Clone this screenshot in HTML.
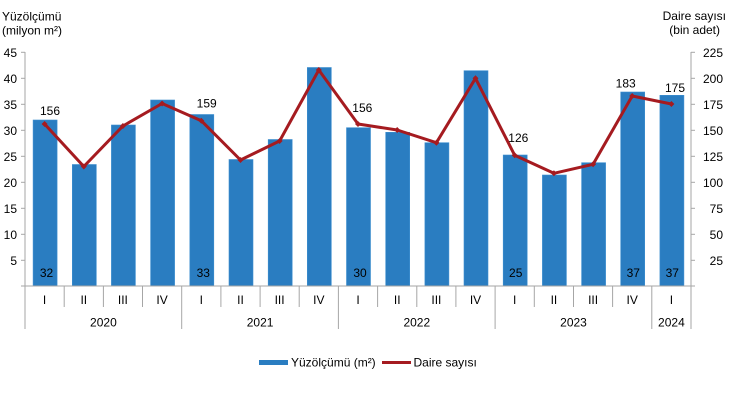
<!DOCTYPE html>
<html>
<head>
<meta charset="utf-8">
<style>
html,body{margin:0;padding:0;background:#fff;}
svg{display:block;}
text{font-family:"Liberation Sans",Arial,sans-serif;font-size:12px;fill:#000;}
</style>
</head>
<body>
<svg width="729" height="405" viewBox="0 0 729 405" xmlns="http://www.w3.org/2000/svg">
<!-- titles -->
<text x="2" y="20.5">Yüzölçümü</text>
<text x="2" y="34.5">(milyon m²)</text>
<text x="726" y="20" text-anchor="end">Daire sayısı</text>
<text x="720" y="34" text-anchor="end">(bin adet)</text>

<!-- bars -->
<g fill="#2A7DC1" stroke="#3E8FD0" stroke-width="0.6">
<rect x="33.1" y="120" width="24" height="166"/>
<rect x="72.3" y="164.5" width="24" height="121.5"/>
<rect x="111.4" y="125" width="24" height="161"/>
<rect x="150.6" y="100" width="24" height="186"/>
<rect x="189.8" y="114.5" width="24" height="171.5"/>
<rect x="229" y="159.5" width="24" height="126.5"/>
<rect x="268.2" y="139.5" width="24" height="146.5"/>
<rect x="307.3" y="67.5" width="24" height="218.5"/>
<rect x="346.5" y="127.7" width="24" height="158.3"/>
<rect x="385.7" y="132.3" width="24" height="153.7"/>
<rect x="424.9" y="142.7" width="24" height="143.3"/>
<rect x="464" y="70.7" width="24" height="215.3"/>
<rect x="503.2" y="155" width="24" height="131"/>
<rect x="542.4" y="175" width="24" height="111"/>
<rect x="581.6" y="162.7" width="24" height="123.3"/>
<rect x="620.7" y="92" width="24" height="194"/>
<rect x="659.9" y="95.3" width="24" height="190.7"/>
</g>

<!-- axes -->
<g stroke="#A6A6A6" stroke-width="1" fill="none">
<line x1="25" y1="52" x2="25" y2="329"/>
<line x1="691" y1="52" x2="691" y2="329"/>
<line x1="21" y1="286" x2="695" y2="286"/>
<line x1="21" y1="52.3" x2="25" y2="52.3"/>
<line x1="21" y1="78.3" x2="25" y2="78.3"/>
<line x1="21" y1="104.3" x2="25" y2="104.3"/>
<line x1="21" y1="130.3" x2="25" y2="130.3"/>
<line x1="21" y1="156.3" x2="25" y2="156.3"/>
<line x1="21" y1="182.3" x2="25" y2="182.3"/>
<line x1="21" y1="208.3" x2="25" y2="208.3"/>
<line x1="21" y1="234.3" x2="25" y2="234.3"/>
<line x1="21" y1="260.3" x2="25" y2="260.3"/>
<line x1="691" y1="52.3" x2="695" y2="52.3"/>
<line x1="691" y1="78.3" x2="695" y2="78.3"/>
<line x1="691" y1="104.3" x2="695" y2="104.3"/>
<line x1="691" y1="130.3" x2="695" y2="130.3"/>
<line x1="691" y1="156.3" x2="695" y2="156.3"/>
<line x1="691" y1="182.3" x2="695" y2="182.3"/>
<line x1="691" y1="208.3" x2="695" y2="208.3"/>
<line x1="691" y1="234.3" x2="695" y2="234.3"/>
<line x1="691" y1="260.3" x2="695" y2="260.3"/>
<line x1="64.2" y1="286" x2="64.2" y2="307"/>
<line x1="103.4" y1="286" x2="103.4" y2="307"/>
<line x1="142.5" y1="286" x2="142.5" y2="307"/>
<line x1="181.7" y1="286" x2="181.7" y2="329"/>
<line x1="220.9" y1="286" x2="220.9" y2="307"/>
<line x1="260.1" y1="286" x2="260.1" y2="307"/>
<line x1="299.2" y1="286" x2="299.2" y2="307"/>
<line x1="338.4" y1="286" x2="338.4" y2="329"/>
<line x1="377.6" y1="286" x2="377.6" y2="307"/>
<line x1="416.8" y1="286" x2="416.8" y2="307"/>
<line x1="455.9" y1="286" x2="455.9" y2="307"/>
<line x1="495.1" y1="286" x2="495.1" y2="329"/>
<line x1="534.3" y1="286" x2="534.3" y2="307"/>
<line x1="573.5" y1="286" x2="573.5" y2="307"/>
<line x1="612.6" y1="286" x2="612.6" y2="307"/>
<line x1="651.8" y1="286" x2="651.8" y2="329"/>
</g>

<g text-anchor="end">
<text x="17" y="57">45</text>
<text x="17" y="83">40</text>
<text x="17" y="109">35</text>
<text x="17" y="135">30</text>
<text x="17" y="161">25</text>
<text x="17" y="187">20</text>
<text x="17" y="213">15</text>
<text x="17" y="239">10</text>
<text x="17" y="265">5</text>
</g>
<g text-anchor="end">
<text x="723" y="57">225</text>
<text x="723" y="83">200</text>
<text x="723" y="109">175</text>
<text x="723" y="135">150</text>
<text x="723" y="161">125</text>
<text x="723" y="187">100</text>
<text x="723" y="213">75</text>
<text x="723" y="239">50</text>
<text x="723" y="265">25</text>
</g>

<g text-anchor="middle">
<text x="44.6" y="304">I</text>
<text x="83.8" y="304">II</text>
<text x="122.9" y="304">III</text>
<text x="162.1" y="304">IV</text>
<text x="201.3" y="304">I</text>
<text x="240.5" y="304">II</text>
<text x="279.6" y="304">III</text>
<text x="318.8" y="304">IV</text>
<text x="358" y="304">I</text>
<text x="397.2" y="304">II</text>
<text x="436.4" y="304">III</text>
<text x="475.5" y="304">IV</text>
<text x="514.7" y="304">I</text>
<text x="553.9" y="304">II</text>
<text x="593.1" y="304">III</text>
<text x="632.2" y="304">IV</text>
<text x="671.4" y="304">I</text>
<text x="103.4" y="326.5">2020</text>
<text x="260.1" y="326.5">2021</text>
<text x="416.8" y="326.5">2022</text>
<text x="573.5" y="326.5">2023</text>
<text x="671.4" y="326.5">2024</text>
</g>

<g text-anchor="middle" fill="#111">
<text x="46.5" y="277">32</text>
<text x="203.3" y="277">33</text>
<text x="360" y="277">30</text>
<text x="515.7" y="277">25</text>
<text x="633.3" y="277">37</text>
<text x="672.3" y="277">37</text>
</g>

<polyline fill="none" stroke="#A51B20" stroke-width="3" stroke-linejoin="round"
points="44.6,124 83.8,166.5 122.9,126 162.1,103.5 201.3,120.7 240.5,160 279.6,141 318.8,70 358,124 397.2,130 436.4,142.7 475.5,78.3 514.7,155.3 553.9,173.3 593.1,164.3 632.2,96 671.4,104"/>
<g fill="#A51B20">
<path d="M44.6,121 L47.6,124 L44.6,127 L41.6,124Z"/>
<path d="M83.8,163.5 L86.8,166.5 L83.8,169.5 L80.8,166.5Z"/>
<path d="M122.9,123 L125.9,126 L122.9,129 L119.9,126Z"/>
<path d="M162.1,100.5 L165.1,103.5 L162.1,106.5 L159.1,103.5Z"/>
<path d="M201.3,117.7 L204.3,120.7 L201.3,123.7 L198.3,120.7Z"/>
<path d="M240.5,157 L243.5,160 L240.5,163 L237.5,160Z"/>
<path d="M279.6,138 L282.6,141 L279.6,144 L276.6,141Z"/>
<path d="M318.8,67 L321.8,70 L318.8,73 L315.8,70Z"/>
<path d="M358,121 L361,124 L358,127 L355,124Z"/>
<path d="M397.2,127 L400.2,130 L397.2,133 L394.2,130Z"/>
<path d="M436.4,139.7 L439.4,142.7 L436.4,145.7 L433.4,142.7Z"/>
<path d="M475.5,75.3 L478.5,78.3 L475.5,81.3 L472.5,78.3Z"/>
<path d="M514.7,152.3 L517.7,155.3 L514.7,158.3 L511.7,155.3Z"/>
<path d="M553.9,170.3 L556.9,173.3 L553.9,176.3 L550.9,173.3Z"/>
<path d="M593.1,161.3 L596.1,164.3 L593.1,167.3 L590.1,164.3Z"/>
<path d="M632.2,93 L635.2,96 L632.2,99 L629.2,96Z"/>
<path d="M671.4,101 L674.4,104 L671.4,107 L668.4,104Z"/>
</g>

<g text-anchor="middle">
<text x="50" y="115">156</text>
<text x="206.7" y="107.5">159</text>
<text x="362.3" y="112">156</text>
<text x="518.3" y="142">126</text>
<text x="625.7" y="87.5">183</text>
<text x="675" y="92">175</text>
</g>

<rect x="259" y="360" width="29" height="5" fill="#2A7DC1"/>
<text x="291" y="366.5">Yüzölçümü (m²)</text>
<line x1="382" y1="362.5" x2="411" y2="362.5" stroke="#A51B20" stroke-width="3"/>
<text x="413.5" y="366.5">Daire sayısı</text>
</svg>
</body>
</html>
